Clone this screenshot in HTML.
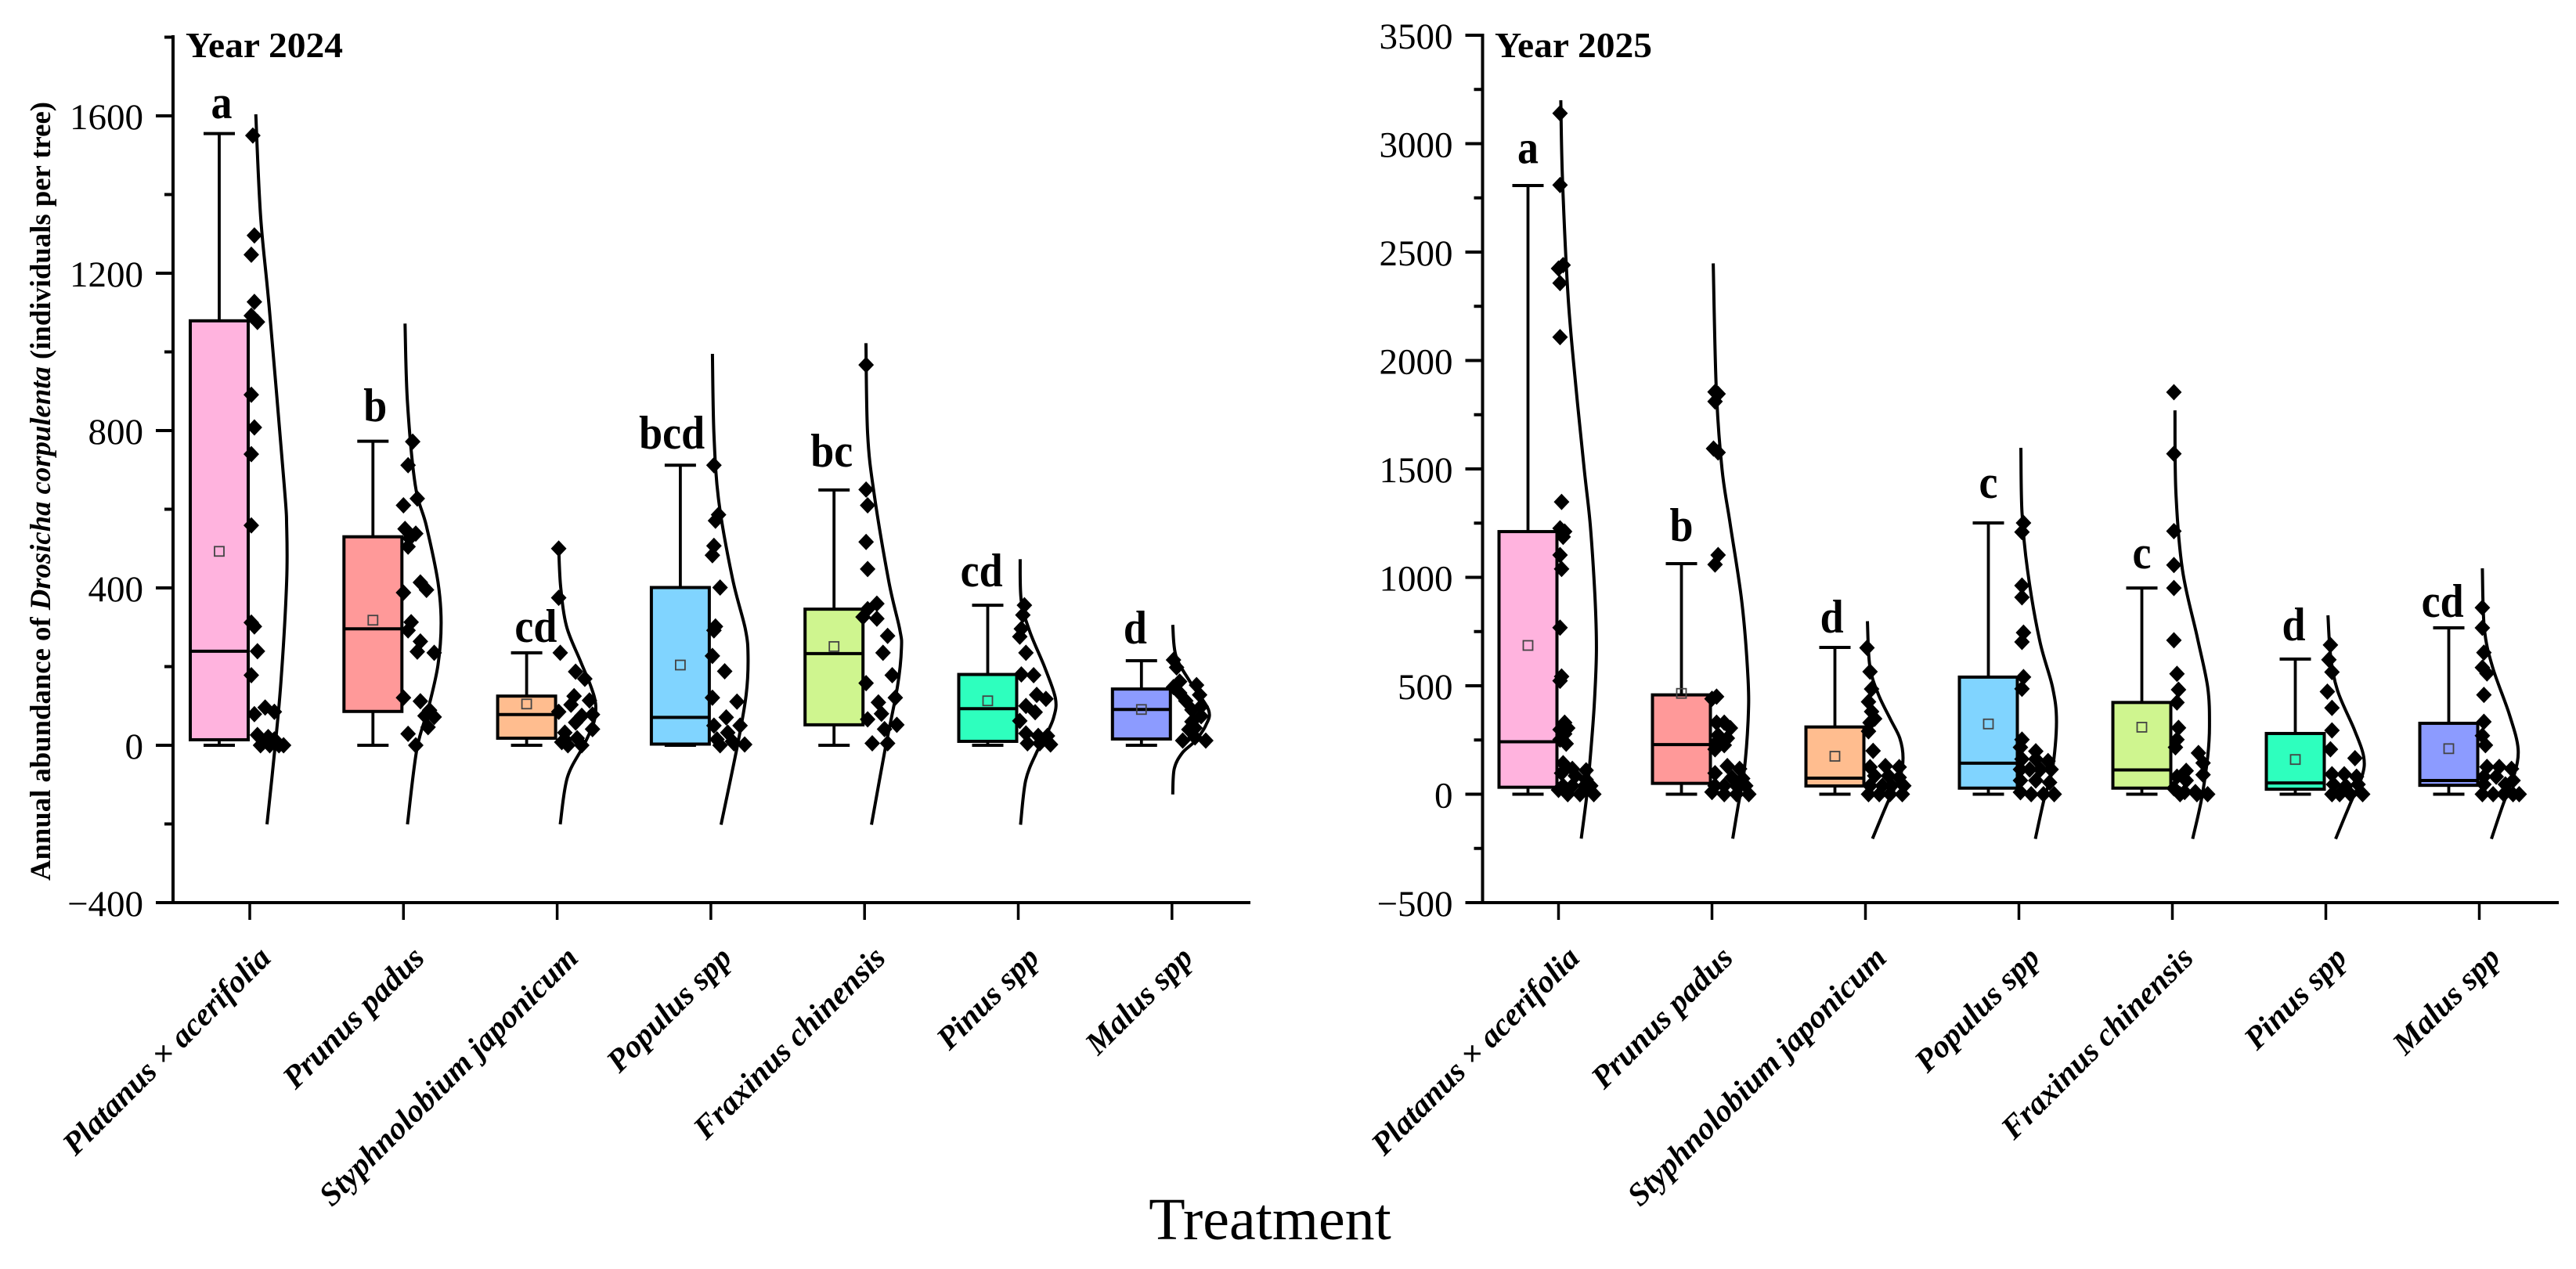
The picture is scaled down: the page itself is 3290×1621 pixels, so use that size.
<!DOCTYPE html>
<html lang="en">
<head>
<meta charset="utf-8">
<title>Annual abundance of Drosicha corpulenta by treatment</title>
<style>
html,body{margin:0;padding:0;background:#fff;}
svg{display:block;}
text{font-family:"Liberation Serif",serif;fill:#000;}
</style>
</head>
<body>
<svg id="chart" xmlns="http://www.w3.org/2000/svg" width="3290" height="1621" viewBox="0 0 3290 1621">
<rect x="0" y="0" width="3290" height="1621" fill="#ffffff"/>
<text transform="translate(64 627.5) rotate(-90)" text-anchor="middle" font-size="37" font-weight="bold" textLength="995" lengthAdjust="spacingAndGlyphs">Annual abundance of <tspan font-style="italic">Drosicha corpulenta</tspan> (individuals per tree)</text>
<text x="1622" y="1583" text-anchor="middle" font-size="76">Treatment</text>
</svg>
<script>
const categories = ["Platanus × acerifolia","Prunus padus","Styphnolobium japonicum","Populus spp","Fraxinus chinensis","Pinus spp","Malus spp"];
const fillColors = ["#FFB3DE","#FF9999","#FFBD8F","#80D4FF","#CFF58F","#2EFFBE","#8C9BFF"];

/* ---------- Year 2024 ---------- */
const majorTicks2024 = [-400,0,400,800,1200,1600];
const minorTicks2024 = [-200,200,600,1000,1400,1800];
const tickLabels2024 = ["−400","0","400","800","1200","1600"];
const whiskerHigh2024 = [1555,773,235,712,649,356,215];
const q3_2024 = [1079,530,125,401,346,180,143];
const median2024 = [239,296,78,71,233,93,91];
const q1_2024 = [14,86,18,3,52,10,16];
const whiskerLow2024 = [0,0,0,0,0,0,0];
const mean2024 = [493,318,105,204,251,113,91];
const sigLetters2024 = ["a","b","cd","bcd","bc","cd","d"];
const sigHeight2024 = [1594,824,263,754,708,404,259];
const sigShift2024 = [1.5,1.5,6,-5.5,-1.5,-4,-4];
const points2024 = [
 [1550,1296,1247,1127,1092,1076,891,808,740,559,312,302,239,178,79,96,85,26,21,0,0,0,0,15,8],
 [772,712,627,610,550,538,526,505,388,414,395,313,292,264,238,235,121,112,89,75,72,46,29,0],
 [500,375,235,187,169,125,114,103,85,78,75,58,41,32,18,15,0,0,8],
 [712,586,571,507,483,401,302,292,227,188,121,111,71,50,50,32,15,0,10,2,5],
 [967,650,610,517,448,360,346,326,322,278,235,178,158,121,109,80,66,52,41,5,5],
 [356,331,296,276,235,180,178,128,118,100,84,62,30,5,24,24,5,2],
 [217,198,162,148,153,133,128,113,99,90,74,60,40,44,12,20,12]
];
const jitter2024 = [
 [2,3,1,3,1,5,1,3,1,1,1,3,5,1,3,10,16,5,12,7,13,19,22,16,9],
 [6,3,9,0,1,8,4,3,0,11,15,5,3,11,9,20,0,11,17,14,20,16,3,8],
 [1,1,2,12,18,11,21,9,1,23,16,12,23,5,13,5,7,16,3],
 [2,5,3,2,1,6,3,2,1,9,1,17,10,2,19,11,4,6,14,22,15],
 [1,1,2,1,2,8,2,-1,8,15,12,18,1,20,9,11,2,21,13,5,15],
 [4,3,2,1,5,2,10,12,18,5,11,1,5,6,13,19,14,21],
 [1,3,5,1,16,5,18,9,19,13,19,13,11,15,7,15,22]
];
const curveValues2024 = [
 [1604,1343,1107,661,559,416,167,-10,-201],
 [1072,872,661,559,416,311,203,96,-10,-201],
 [501,402,302,217,150,105,60,0,-82,-201],
 [995,792,622,425,296,226,129,0,-202],
 [1022,792,642,416,296,247,149,-16,-202],
 [473,366,287,197,119,70,20,-20,-90,-202],
 [306,227,159,90,50,10,-20,-60,-125]
];
const curveDensity2024 = [
 [3.9,7.1,12.8,22.4,24,24,20.4,16.3,11.2],
 [1,2.6,7.7,14.8,22.4,24.5,22.4,16.3,8.7,2.6],
 [1,2.3,6.1,14.8,21.9,25,24,17.3,6.6,2],
 [1,2,5.1,14,22.4,24.2,23,17.3,6.6],
 [0.9,2,6.1,15.8,22.8,24,21.4,13.1,4.5],
 [1.2,2,7.7,17.3,24.2,23,17.3,11.7,4.8,1.5],
 [0.5,2.6,12.2,23.8,21.9,14.8,6.6,1.5,0.5]
];

/* ---------- Year 2025 ---------- */
const majorTicks2025 = [-500,0,500,1000,1500,2000,2500,3000,3500];
const minorTicks2025 = [-250,250,750,1250,1750,2250,2750,3250];
const tickLabels2025 = ["−500","0","500","1000","1500","2000","2500","3000","3500"];
const whiskerHigh2025 = [2807,1063,677,1251,951,623,767];
const q3_2025 = [1211,458,310,540,423,280,327];
const median2025 = [242,229,74,143,112,52,63];
const q1_2025 = [32,50,38,28,28,23,41];
const whiskerLow2025 = [0,0,0,0,0,0,0];
const mean2025 = [686,465,175,324,309,160,210];
const sigLetters2025 = ["a","b","d","c","c","d","cd"];
const sigHeight2025 = [2909,1168,745,1366,1041,709,818];
const sigShift2025 = [0,0,-2,0,0,-1,-4];
const points2025 = [
 [3140,2809,2440,2424,2357,2108,1348,1226,1211,1187,1103,1039,768,543,523,330,305,298,278,233,252,143,97,117,110,85,67,39,39,39,39,0,0,0,20,20],
 [1855,1846,1811,1594,1576,1103,1059,450,440,330,330,305,272,258,240,226,207,130,117,97,77,72,39,39,39,39,10,0,0,0],
 [675,565,485,426,381,348,330,290,200,125,130,125,85,85,77,39,39,39,39,0,0,0,0],
 [1251,1209,962,908,745,702,540,486,252,216,198,162,162,153,114,114,114,114,63,63,54,9,0,0,0],
 [1854,1570,1213,1057,951,710,555,482,423,306,252,216,190,144,108,90,81,63,27,10,10,0,0,0],
 [688,620,563,473,398,294,207,166,92,92,81,45,38,45,0,0,0,0],
 [860,767,653,584,557,458,334,270,226,126,126,117,81,81,63,45,45,0,0,0,0,0]
];
const jitter2025 = [
 [1,1,3,0,1,1,2,1,4,3,1,2,1,2,1,4,6,1,4,5,1,3,2,9,18,11,18,3,9,17,21,6,14,23,0,18],
 [2,4,2,1,4,4,2,3,0,8,3,12,4,10,3,8,2,10,18,2,13,20,2,8,16,22,0,8,16,24],
 [1,3,4,2,4,6,3,2,5,3,13,22,6,15,22,3,11,17,25,2,9,16,24],
 [3,2,2,2,3,2,3,2,2,1,11,2,11,19,1,7,14,21,1,11,20,1,8,16,23],
 [1,1,1,1,1,1,3,4,3,4,3,2,17,20,9,20,3,9,1,8,15,5,23,16],
 [3,2,4,1,4,4,3,19,4,12,20,5,13,21,4,9,16,24],
 [2,2,3,2,5,3,3,2,4,5,13,21,3,11,22,3,17,2,9,16,22,26]
];
const curveValues2025 = [
 [3200,2832,2279,1868,1496,1240,915,659,403,129,-24,-205],
 [2448,1868,1496,1240,878,529,337,103,-52,-205],
 [798,593,464,348,258,167,77,-38,-205],
 [1597,1302,1034,709,494,334,117,-27,-206],
 [1770,1392,1034,727,494,314,172,-27,-206],
 [825,638,476,297,172,81,-45,-206],
 [1042,762,583,368,207,81,-45,-206]
];
const curveDensity2025 = [
 [1.5,2.6,6.4,11.5,16.8,20.7,23.7,24.7,23.2,20.2,18.1,14.8],
 [0.8,2.8,6.6,12,19.6,23.5,23.5,20.9,17.1,13.5],
 [1.3,2.8,8.2,16.1,22.4,24.5,22.4,14.5,4.6],
 [1.3,2,5.6,13.5,21.9,24.5,21.9,16.3,10.7],
 [1.7,2.3,6.6,16.1,23,24.2,23,18.9,13.2],
 [1.4,3.1,7.7,18.6,24.7,23.5,15.8,6.4],
 [2,3.3,8.8,19.6,25.3,22.4,15.6,7.9]
];

const svgNS = "http://www.w3.org/2000/svg";
const root = document.getElementById("chart");

function make(tag, parent, attrs) {
  const el = document.createElementNS(svgNS, tag);
  for (const k in attrs) el.setAttribute(k, attrs[k]);
  parent.appendChild(el);
  return el;
}
function slug(s) {
  return s.toLowerCase().replace(/[^a-z]+/g, "-");
}
function smoothPath(pts) {
  let d = "M" + pts[0][0].toFixed(1) + " " + pts[0][1].toFixed(1);
  for (let i = 0; i < pts.length - 1; i++) {
    const p0 = pts[Math.max(0, i - 1)], p1 = pts[i], p2 = pts[i + 1], p3 = pts[Math.min(pts.length - 1, i + 2)];
    const c1x = p1[0] + (p2[0] - p0[0]) / 6, c1y = p1[1] + (p2[1] - p0[1]) / 6;
    const c2x = p2[0] - (p3[0] - p1[0]) / 6, c2y = p2[1] - (p3[1] - p1[1]) / 6;
    d += "C" + c1x.toFixed(1) + " " + c1y.toFixed(1) + " " + c2x.toFixed(1) + " " + c2y.toFixed(1) + " " + p2[0].toFixed(1) + " " + p2[1].toFixed(1);
  }
  return d;
}

function drawPanel(cfg) {
  const y = v => cfg.yZero - v * cfg.yScale;
  const xTick = i => cfg.tick0 + cfg.spacing * i;
  const unit = cfg.spacing / 100;
  const boxCenter = i => xTick(i) - 39;

  const g = make("g", root, {});
  
  

  /* axes */
  const yAxis = make("line", g, {x1: cfg.axisX, x2: cfg.axisX, y1: cfg.axisTop - 2, y2: cfg.axisBottom, stroke: "#000", "stroke-width": 4});
  
  
  const xAxis = make("line", g, {x1: cfg.axisX - 22, x2: cfg.axisEnd, y1: cfg.axisBottom, y2: cfg.axisBottom, stroke: "#000", "stroke-width": 4});
  
  

  cfg.majors.forEach((v, i) => {
    const t = make("line", g, {x1: cfg.axisX - 22, x2: cfg.axisX, y1: y(v), y2: y(v), stroke: "#000", "stroke-width": 4});
    
    
    const l = make("text", g, {x: cfg.axisX - 38, y: y(v) + 17, "text-anchor": "end", "font-size": 47});
    l.textContent = cfg.labels[i];
    
    
  });
  cfg.minors.forEach(v => {
    const t = make("line", g, {x1: cfg.axisX - 11, x2: cfg.axisX, y1: y(v), y2: y(v), stroke: "#000", "stroke-width": 4});
    
    
  });

  const title = make("text", g, {x: cfg.titleX, y: 73, "font-size": 46, "font-weight": "bold", textLength: 201, lengthAdjust: "spacingAndGlyphs"});
  title.textContent = cfg.title;
  
  

  categories.forEach((cat, i) => {
    const name = slug(cat);
    const t = make("line", g, {x1: xTick(i), x2: xTick(i), y1: cfg.axisBottom, y2: cfg.axisBottom + 22, stroke: "#000", "stroke-width": 3.5});
    
    

    const lx = xTick(i) + 29, ly = 1226;
    const label = make("text", g, {x: lx, y: ly, "text-anchor": "end", "font-size": 41, "font-style": "italic", "font-weight": "bold", transform: "rotate(-45 " + lx + " " + ly + ")"});
    label.textContent = cat;
    
    

    /* density curve */
    const curvePts = cfg.curveV[i].map((v, k) => [xTick(i) + cfg.curveD[i][k] * unit, y(v)]);
    const curve = make("path", g, {d: smoothPath(curvePts), fill: "none", stroke: "#000", "stroke-width": 4});
    
    

    /* whiskers */
    const cx = boxCenter(i);
    const w1 = make("line", g, {x1: cx, x2: cx, y1: y(cfg.high[i]), y2: y(cfg.low[i]), stroke: "#000", "stroke-width": 3.8});
    
    
    const c1 = make("line", g, {x1: cx - 20, x2: cx + 20, y1: y(cfg.high[i]), y2: y(cfg.high[i]), stroke: "#000", "stroke-width": 4});
    
    
    const c2 = make("line", g, {x1: cx - 20, x2: cx + 20, y1: y(cfg.low[i]), y2: y(cfg.low[i]), stroke: "#000", "stroke-width": 4});
    
    

    /* box */
    const box = make("rect", g, {x: cx - 37, y: y(cfg.q3[i]), width: 74, height: y(cfg.q1[i]) - y(cfg.q3[i]), fill: fillColors[i], stroke: "#000", "stroke-width": 4});
    
    
    const med = make("line", g, {x1: cx - 37, x2: cx + 37, y1: y(cfg.median[i]), y2: y(cfg.median[i]), stroke: "#000", "stroke-width": 4});
    
    
    const mean = make("rect", g, {x: cx - 6, y: y(cfg.mean[i]) - 6, width: 12, height: 12, fill: "none", stroke: "#444", "stroke-width": 1.8});
    
    

    /* significance letter */
    const sigX = cx + cfg.sigShift[i] * unit, sigY = y(cfg.sigHeight[i]);
    const sig = make("text", g, {transform: "translate(" + sigX + " " + sigY + ") scale(1 1.12)", "text-anchor": "middle", "font-size": 54, "font-weight": "bold"});
    sig.textContent = cfg.sig[i];
    
    

    /* raw points */
    cfg.points[i].forEach((v, k) => {
      const px = xTick(i) + cfg.jitter[i][k] * unit;
      const py = y(v);
      const r = 10.5;
      const d = make("polygon", g, {points: px + "," + (py - r) + " " + (px + r * 0.95) + "," + py + " " + px + "," + (py + r) + " " + (px - r * 0.95) + "," + py, fill: "#000"});
      
      
    });
  });
}

drawPanel({
  name: "panel-year-2024", title: "Year 2024", titleX: 237,
  yZero: 952, yScale: 0.5025, axisX: 221, axisTop: 47, axisBottom: 1153, axisEnd: 1597,
  tick0: 319, spacing: 196.3,
  majors: majorTicks2024, minors: minorTicks2024, labels: tickLabels2024,
  high: whiskerHigh2024, q3: q3_2024, median: median2024, q1: q1_2024, low: whiskerLow2024, mean: mean2024,
  sig: sigLetters2024, sigHeight: sigHeight2024, sigShift: sigShift2024,
  points: points2024, jitter: jitter2024, curveV: curveValues2024, curveD: curveDensity2024
});
drawPanel({
  name: "panel-year-2025", title: "Year 2025", titleX: 1909,
  yZero: 1014.5, yScale: 0.277, axisX: 1893.5, axisTop: 45, axisBottom: 1153, axisEnd: 3268,
  tick0: 1990.5, spacing: 196,
  majors: majorTicks2025, minors: minorTicks2025, labels: tickLabels2025,
  high: whiskerHigh2025, q3: q3_2025, median: median2025, q1: q1_2025, low: whiskerLow2025, mean: mean2025,
  sig: sigLetters2025, sigHeight: sigHeight2025, sigShift: sigShift2025,
  points: points2025, jitter: jitter2025, curveV: curveValues2025, curveD: curveDensity2025
});
</script>
</body>
</html>
